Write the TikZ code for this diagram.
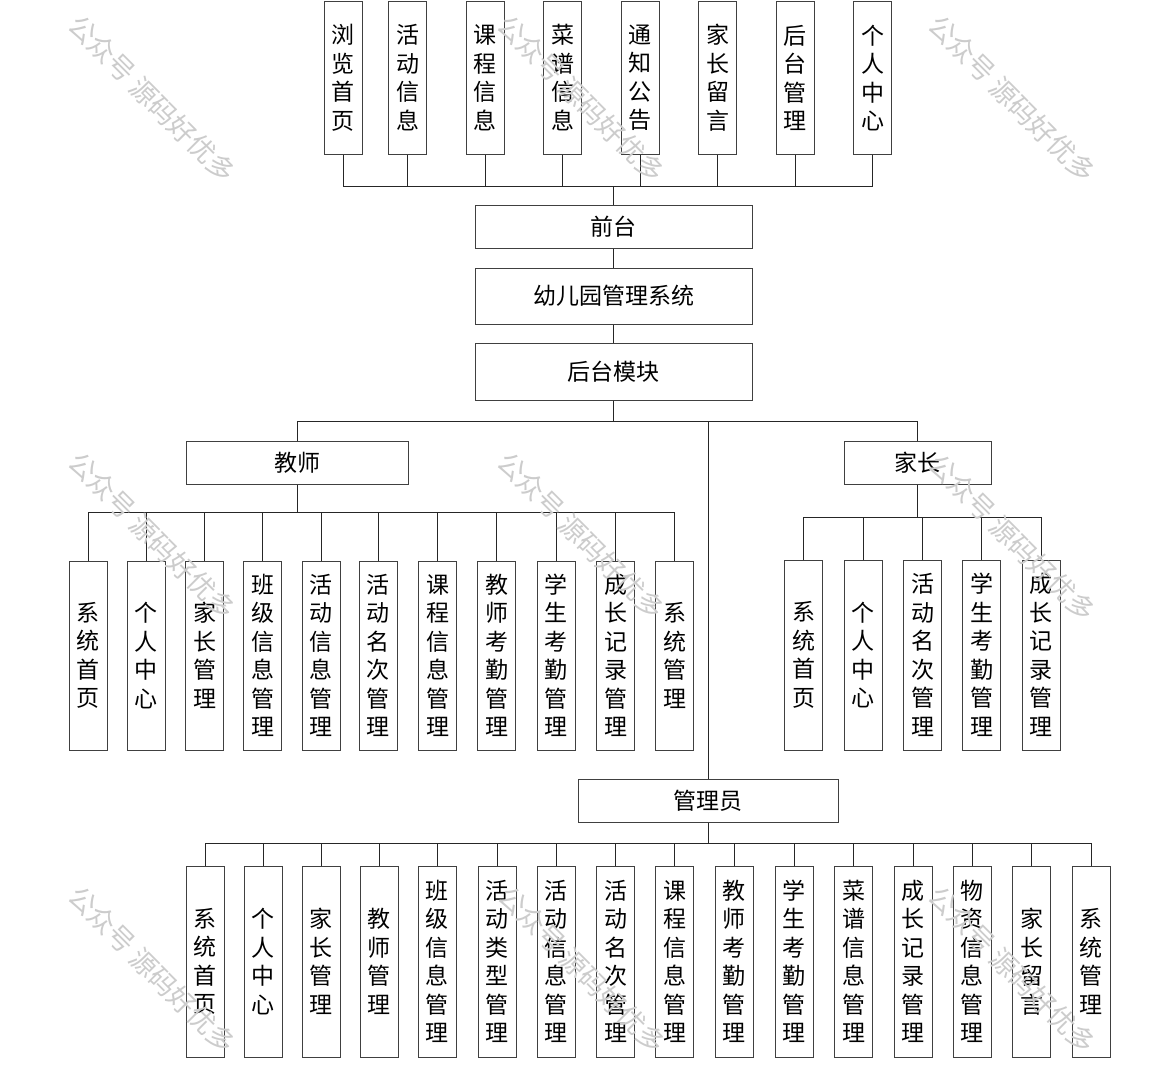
\documentclass[tikz,border=0pt]{standalone}
\usepackage{fontspec}
\newfontfamily\zh{Noto Sans CJK SC}
\tikzset{
  box/.style={draw=black!75, line width=1pt, fill=white, inner sep=0pt, font=\zh\fontsize{23}{28.5}\selectfont},
  vbox/.style={box, minimum width=38pt, align=center},
  hbox/.style={box, minimum height=43pt},
  link/.style={draw=black!85, line width=1pt},
  wmtext/.style={text=gray!40, rotate=-45, font=\zh\fontsize{27}{27}\selectfont}
}
\begin{document}
\begin{tikzpicture}[x=1pt,y=-1pt]
\useasboundingbox (0,0) rectangle (1169,1071);
\node[vbox, minimum height=153pt] (q1) at (343,77.8) {浏\\览\\首\\页};
\node[vbox, minimum height=153pt] (q2) at (407.5,77.8) {活\\动\\信\\息};
\node[vbox, minimum height=153pt] (q3) at (485,77.8) {课\\程\\信\\息};
\node[vbox, minimum height=153pt] (q4) at (562.5,77.8) {菜\\谱\\信\\息};
\node[vbox, minimum height=153pt] (q5) at (640,77.8) {通\\知\\公\\告};
\node[vbox, minimum height=153pt] (q6) at (717.5,77.8) {家\\长\\留\\言};
\node[vbox, minimum height=153pt] (q7) at (795,77.8) {后\\台\\管\\理};
\node[vbox, minimum height=153pt] (q8) at (872.5,77.8) {个\\人\\中\\心};
\node[hbox, minimum width=277pt] (qian) at (613.5,226.5) {前台};
\node[hbox, minimum width=277pt, minimum height=56pt] (xitong) at (613.5,296) {幼儿园管理系统};
\node[hbox, minimum width=277pt, minimum height=57pt] (houtai) at (613.5,371.5) {后台模块};
\node[hbox, minimum width=222pt] (jiaoshi) at (297,462.5) {教师};
\node[hbox, minimum width=147pt] (jiazhang) at (917.5,462.5) {家长};
\node[hbox, minimum width=260pt] (guanli) at (708,800.5) {管理员};
\node[vbox, minimum height=189pt] (t1) at (88.4,655.5) {系\\统\\首\\页};
\node[vbox, minimum height=189pt] (t2) at (146.4,655.5) {个\\人\\中\\心};
\node[vbox, minimum height=189pt] (t3) at (204.5,655.5) {家\\长\\管\\理};
\node[vbox, minimum height=189pt] (t4) at (262.9,655.5) {班\\级\\信\\息\\管\\理};
\node[vbox, minimum height=189pt] (t5) at (321,655.5) {活\\动\\信\\息\\管\\理};
\node[vbox, minimum height=189pt] (t6) at (378.2,655.5) {活\\动\\名\\次\\管\\理};
\node[vbox, minimum height=189pt] (t7) at (437.5,655.5) {课\\程\\信\\息\\管\\理};
\node[vbox, minimum height=189pt] (t8) at (496.8,655.5) {教\\师\\考\\勤\\管\\理};
\node[vbox, minimum height=189pt] (t9) at (556.2,655.5) {学\\生\\考\\勤\\管\\理};
\node[vbox, minimum height=189pt] (t10) at (615.6,655.5) {成\\长\\记\\录\\管\\理};
\node[vbox, minimum height=189pt] (t11) at (674.8,655.5) {系\\统\\管\\理};
\node[vbox, minimum height=190pt] (p1) at (803.5,655) {系\\统\\首\\页};
\node[vbox, minimum height=190pt] (p2) at (863,655) {个\\人\\中\\心};
\node[vbox, minimum height=190pt] (p3) at (922.5,655) {活\\动\\名\\次\\管\\理};
\node[vbox, minimum height=190pt] (p4) at (981.7,655) {学\\生\\考\\勤\\管\\理};
\node[vbox, minimum height=190pt] (p5) at (1041,655) {成\\长\\记\\录\\管\\理};
\node[vbox, minimum height=191pt] (a1) at (205,961.5) {系\\统\\首\\页};
\node[vbox, minimum height=191pt] (a2) at (263,961.5) {个\\人\\中\\心};
\node[vbox, minimum height=191pt] (a3) at (321.2,961.5) {家\\长\\管\\理};
\node[vbox, minimum height=191pt] (a4) at (379.3,961.5) {教\\师\\管\\理};
\node[vbox, minimum height=191pt] (a5) at (437.4,961.5) {班\\级\\信\\息\\管\\理};
\node[vbox, minimum height=191pt] (a6) at (497.4,961.5) {活\\动\\类\\型\\管\\理};
\node[vbox, minimum height=191pt] (a7) at (556.2,961.5) {活\\动\\信\\息\\管\\理};
\node[vbox, minimum height=191pt] (a8) at (615.5,961.5) {活\\动\\名\\次\\管\\理};
\node[vbox, minimum height=191pt] (a9) at (674.9,961.5) {课\\程\\信\\息\\管\\理};
\node[vbox, minimum height=191pt] (a10) at (734.3,961.5) {教\\师\\考\\勤\\管\\理};
\node[vbox, minimum height=191pt] (a11) at (794.2,961.5) {学\\生\\考\\勤\\管\\理};
\node[vbox, minimum height=191pt] (a12) at (853.6,961.5) {菜\\谱\\信\\息\\管\\理};
\node[vbox, minimum height=191pt] (a13) at (913,961.5) {成\\长\\记\\录\\管\\理};
\node[vbox, minimum height=191pt] (a14) at (972.3,961.5) {物\\资\\信\\息\\管\\理};
\node[vbox, minimum height=191pt] (a15) at (1031.7,961.5) {家\\长\\留\\言};
\node[vbox, minimum height=191pt] (a16) at (1091,961.5) {系\\统\\管\\理};
\coordinate (qbus) at (613.5,186);
\coordinate (bbus) at (613.5,421);
\coordinate (tbus) at (297,512);
\coordinate (pbus) at (917.5,517);
\coordinate (abus) at (708,843.5);
\foreach \i in {1,...,8} \draw[link] (q\i.south) |- (qbus);
\draw[link] (qbus) -- (qian.north);
\draw[link] (qian) -- (xitong);
\draw[link] (xitong) -- (houtai);
\draw[link] (houtai) -- (bbus);
\draw[link] (jiaoshi.north) |- (bbus);
\draw[link] (jiazhang.north) |- (bbus);
\draw[link] (guanli.north) |- (bbus);
\draw[link] (jiaoshi) -- (tbus);
\foreach \i in {1,...,11} \draw[link] (t\i.north) |- (tbus);
\draw[link] (jiazhang) -- (pbus);
\foreach \i in {1,...,5} \draw[link] (p\i.north) |- (pbus);
\draw[link] (guanli) -- (abus);
\foreach \i in {1,...,16} \draw[link] (a\i.north) |- (abus);
\node[wmtext] (wm1) at (152,99) {公众号 源码好优多};
\node[wmtext] (wm2) at (581,99) {公众号 源码好优多};
\node[wmtext] (wm3) at (1012,99) {公众号 源码好优多};
\node[wmtext] (wm4) at (152,536) {公众号 源码好优多};
\node[wmtext] (wm5) at (581,536) {公众号 源码好优多};
\node[wmtext] (wm6) at (1012,538) {公众号 源码好优多};
\node[wmtext] (wm7) at (152,970) {公众号 源码好优多};
\node[wmtext] (wm8) at (582,970) {公众号 源码好优多};
\node[wmtext] (wm9) at (1012,970) {公众号 源码好优多};
\end{tikzpicture}
\end{document}
